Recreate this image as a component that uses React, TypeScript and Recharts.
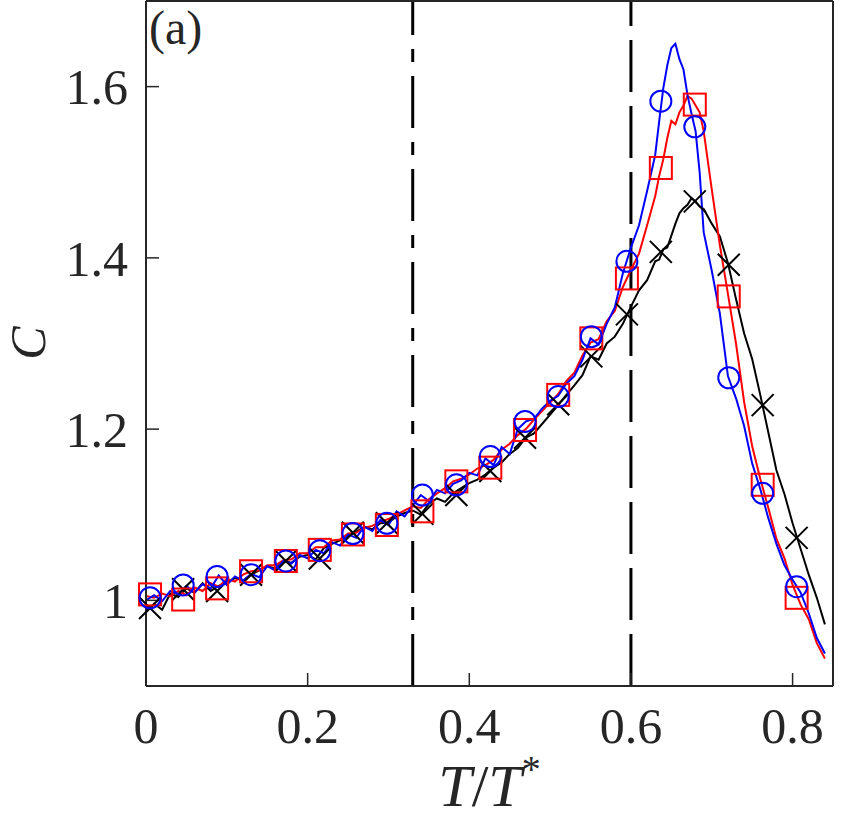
import React from "react";
import {
  ComposedChart,
  Line,
  Scatter,
  XAxis,
  YAxis,
  ReferenceLine,
  Label,
} from "recharts";

// T/T* grid shared by the three curves
const tGrid = [
  0.0, 0.01, 0.02, 0.03, 0.04, 0.05, 0.06, 0.07, 0.08, 0.09,
  0.1, 0.11, 0.12, 0.13, 0.14, 0.15, 0.16, 0.17, 0.18, 0.19,
  0.2, 0.21, 0.22, 0.23, 0.24, 0.25, 0.26, 0.27, 0.28, 0.29,
  0.3, 0.31, 0.32, 0.33, 0.34, 0.35, 0.36, 0.37, 0.38, 0.39,
  0.4, 0.41, 0.42, 0.43, 0.44, 0.45, 0.46, 0.47, 0.48, 0.49,
  0.5, 0.51, 0.52, 0.53, 0.54, 0.55, 0.56, 0.57, 0.58, 0.59,
  0.6, 0.61, 0.62, 0.63, 0.635, 0.64, 0.645, 0.65, 0.655, 0.66,
  0.665, 0.67, 0.675, 0.68, 0.685, 0.69, 0.7, 0.71, 0.72, 0.73,
  0.74, 0.75, 0.76, 0.77, 0.78, 0.79, 0.8, 0.81, 0.82, 0.83, 0.84,
];

const blackC = [
  0.986, 0.996, 0.989, 1.008, 1.004, 1.014, 1.009, 1.02, 1.011, 1.017,
  1.021, 1.026, 1.023, 1.03, 1.035, 1.04, 1.037, 1.046, 1.044, 1.051,
  1.053, 1.048, 1.061, 1.066, 1.07, 1.075, 1.08, 1.086, 1.083, 1.09,
  1.091, 1.098, 1.102, 1.105, 1.1, 1.113, 1.119, 1.115, 1.125, 1.131,
  1.137, 1.141, 1.147, 1.155, 1.161, 1.171, 1.178, 1.19, 1.195, 1.206,
  1.217, 1.228, 1.24, 1.251, 1.263, 1.285, 1.281, 1.3, 1.308, 1.323,
  1.343, 1.362, 1.374, 1.396, 1.398, 1.41, 1.412, 1.426, 1.44, 1.452,
  1.458, 1.462, 1.47, 1.466, 1.46, 1.457, 1.44, 1.425, 1.394, 1.352,
  1.312, 1.282, 1.24, 1.196, 1.152, 1.124, 1.09, 1.06, 1.03, 1.003, 0.972,
];

const redC = [
  1.005, 1.003, 1.008, 1.005, 1.011, 1.006, 1.015, 1.011, 1.02, 1.016,
  1.025, 1.022, 1.03, 1.034, 1.035, 1.041, 1.041, 1.047, 1.048, 1.055,
  1.055, 1.062, 1.062, 1.07, 1.071, 1.078, 1.079, 1.085, 1.087, 1.092,
  1.095, 1.1, 1.105, 1.11, 1.108, 1.118, 1.125, 1.131, 1.139, 1.142,
  1.147, 1.154, 1.158, 1.164, 1.176, 1.183, 1.193, 1.2, 1.211, 1.221,
  1.231, 1.241, 1.256, 1.266, 1.286, 1.301, 1.305, 1.326, 1.338, 1.366,
  1.386, 1.405, 1.438, 1.472, 1.496, 1.515, 1.54, 1.56, 1.556, 1.57,
  1.578, 1.589, 1.586, 1.578, 1.57, 1.548, 1.48, 1.415, 1.358, 1.3,
  1.232, 1.18, 1.142, 1.108, 1.072, 1.049, 1.018, 0.995, 0.978, 0.95, 0.932,
];

const blueC = [
  1.0, 1.006, 0.999, 1.011, 1.007, 1.017, 1.009, 1.019, 1.014, 1.029,
  1.018, 1.028, 1.023, 1.031, 1.027, 1.04, 1.035, 1.046, 1.043, 1.053,
  1.049, 1.059, 1.055, 1.068, 1.064, 1.077, 1.073, 1.086, 1.081, 1.094,
  1.088, 1.104, 1.098, 1.111, 1.123, 1.116, 1.129, 1.125, 1.136, 1.14,
  1.149, 1.146, 1.166, 1.158, 1.179, 1.171, 1.2, 1.209, 1.212, 1.224,
  1.233, 1.239, 1.253, 1.262, 1.281, 1.306, 1.299, 1.323, 1.342, 1.382,
  1.412, 1.438, 1.478, 1.52, 1.56, 1.598, 1.625, 1.645, 1.65, 1.632,
  1.62, 1.59, 1.568, 1.548, 1.5, 1.43, 1.385, 1.335, 1.262, 1.236,
  1.204, 1.16, 1.13, 1.096, 1.066, 1.041, 1.024, 1.009, 0.985, 0.956, 0.938,
];

// marker positions (every few samples)
const markerT = [
  0.005, 0.046, 0.088, 0.13, 0.173, 0.215, 0.256, 0.298, 0.342, 0.384,
  0.426, 0.469, 0.51, 0.551, 0.595, 0.637, 0.679, 0.721, 0.763, 0.805,
];
const blackMarks = [
  0.991, 1.013, 1.011, 1.03, 1.046, 1.049, 1.079, 1.09, 1.101, 1.123,
  1.151, 1.19, 1.229, 1.285, 1.334, 1.407, 1.466, 1.392, 1.228, 1.073,
];
const redMarks = [
  1.007, 1.001, 1.014, 1.034, 1.046, 1.059, 1.077, 1.088, 1.104, 1.139,
  1.155, 1.199, 1.24, 1.306, 1.376, 1.505, 1.579, 1.355, 1.135, 1.003,
];
const blueMarks = [
  1.003, 1.018, 1.028, 1.03, 1.046, 1.058, 1.078, 1.09, 1.123, 1.135,
  1.168, 1.209, 1.238, 1.308, 1.396, 1.583, 1.553, 1.26, 1.125, 1.016,
];

const xTicks = [0, 0.2, 0.4, 0.6, 0.8];
const yTicks = [1, 1.2, 1.4, 1.6];

const lineData = tGrid.map((t, i) => ({
  t,
  black: blackC[i],
  red: redC[i],
  blue: blueC[i],
}));
const marks = (vals: number[]) => markerT.map((t, i) => ({ t, c: vals[i] }));

const FONT = "Liberation Serif, DejaVu Serif, serif";
const AXIS = "#262626";

const Cross = ({ cx, cy }: any) => (
  <path
    d={`M${cx - 11},${cy - 11}L${cx + 11},${cy + 11}M${cx - 11},${cy + 11}L${cx + 11},${cy - 11}`}
    stroke="#000"
    strokeWidth={2}
    fill="none"
  />
);
const Square = ({ cx, cy }: any) => (
  <rect x={cx - 11} y={cy - 11} width={22} height={22} stroke="#ff0000" strokeWidth={2} fill="none" />
);
const Circle = ({ cx, cy }: any) => (
  <circle cx={cx} cy={cy} r={10.5} stroke="#0000ff" strokeWidth={2} fill="none" />
);

const XTitle = ({ viewBox }: any) => (
  <text x={viewBox.x + viewBox.width / 2} y={viewBox.y + 120} textAnchor="middle" fontFamily={FONT} fontSize={60} fill={AXIS}>
    <tspan fontStyle="italic">T</tspan>
    <tspan>/</tspan>
    <tspan fontStyle="italic">T</tspan>
    <tspan fontSize={38} dy={-24}>*</tspan>
  </text>
);

const YTitle = () => (
  <text x={45} y={343} transform="rotate(-90, 45, 343)" textAnchor="middle" fontFamily={FONT} fontSize={50} fontStyle="italic" fill={AXIS}>
    C
  </text>
);

const PanelTag = ({ viewBox }: any) => (
  <text x={viewBox.x + 3} y={viewBox.y + 44} fontFamily={FONT} fontSize={48} fill={AXIS}>
    (a)
  </text>
);

export default function App() {
  const tickStyle = { fontFamily: FONT, fontSize: 50, fill: AXIS };
  return (
    <div style={{ position: "absolute", left: 0, top: 0, background: "#fff" }}>
      <ComposedChart width={853} height={822} data={lineData} margin={{ top: 0, right: 0, bottom: 0, left: 0 }}>
        <XAxis
          dataKey="t"
          type="number"
          domain={[0, 0.85]}
          ticks={xTicks}
          height={136}
          tickSize={-13}
          tickMargin={34}
          tick={tickStyle}
          axisLine={{ stroke: AXIS, strokeWidth: 2 }}
          tickLine={{ stroke: AXIS, strokeWidth: 1.5 }}
          tickFormatter={(v) => String(v)}
        >
          <Label content={<XTitle />} />
        </XAxis>
        <XAxis
          xAxisId="top"
          orientation="top"
          dataKey="t"
          type="number"
          domain={[0, 0.85]}
          ticks={xTicks}
          height={1}
          tickSize={-13}
          tick={false}
          axisLine={{ stroke: AXIS, strokeWidth: 2 }}
          tickLine={{ stroke: AXIS, strokeWidth: 1.5 }}
        >
          <Label content={<PanelTag />} />
        </XAxis>
        <YAxis
          type="number"
          domain={[0.9, 1.7]}
          ticks={yTicks}
          width={146}
          tickSize={-13}
          tickMargin={31}
          tick={tickStyle}
          axisLine={{ stroke: AXIS, strokeWidth: 2 }}
          tickLine={{ stroke: AXIS, strokeWidth: 1.5 }}
          tickFormatter={(v) => String(v)}
        >
          <Label content={<YTitle />} />
        </YAxis>
        <YAxis
          yAxisId="right"
          orientation="right"
          type="number"
          domain={[0.9, 1.7]}
          ticks={yTicks}
          width={20}
          tickSize={-13}
          tick={false}
          axisLine={{ stroke: AXIS, strokeWidth: 2 }}
          tickLine={{ stroke: AXIS, strokeWidth: 1.5 }}
        />

        <ReferenceLine x={0.33} stroke="#000" strokeWidth={3} strokeDasharray="52 14 13 14" />
        <ReferenceLine x={0.6} stroke="#000" strokeWidth={3} strokeDasharray="52 14" />

        <Line dataKey="black" stroke="#000" strokeWidth={2} dot={false} isAnimationActive={false} type="linear" />
        <Scatter data={marks(blackMarks)} dataKey="c" shape={<Cross />} isAnimationActive={false} />
        <Line dataKey="red" stroke="#ff0000" strokeWidth={2} dot={false} isAnimationActive={false} type="linear" />
        <Scatter data={marks(redMarks)} dataKey="c" shape={<Square />} isAnimationActive={false} />
        <Line dataKey="blue" stroke="#0000ff" strokeWidth={2} dot={false} isAnimationActive={false} type="linear" />
        <Scatter data={marks(blueMarks)} dataKey="c" shape={<Circle />} isAnimationActive={false} />
      </ComposedChart>
    </div>
  );
}
